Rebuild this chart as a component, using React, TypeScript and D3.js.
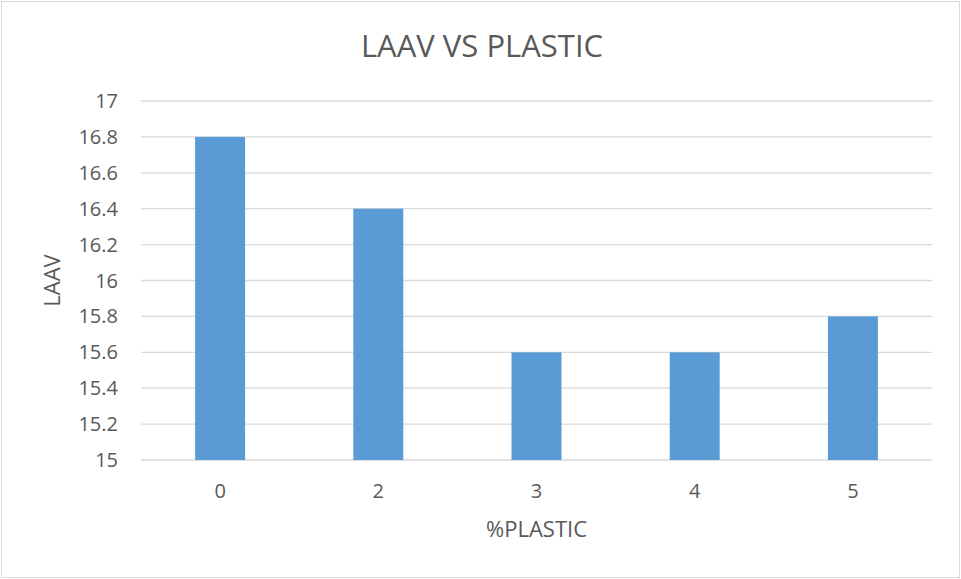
import React from "react";
import * as d3 from "d3";

const categories = ["0", "2", "3", "4", "5"];
const laavValues = [16.8, 16.4, 15.6, 15.6, 15.8];
const yTicks = [15, 15.2, 15.4, 15.6, 15.8, 16, 16.2, 16.4, 16.6, 16.8, 17];

const W = 961;
const H = 579;
const plot = { left: 141, right: 932, top: 101, bottom: 460 };
const FONT = "'Open Sans', Lato, sans-serif";
const TEXT = "#595959";

export default function App() {
  const x = d3.scaleBand<string>().domain(categories).range([plot.left, plot.right]).padding(0);
  const y = d3.scaleLinear().domain([15, 17]).range([plot.bottom, plot.top]);
  const barW = x.bandwidth() * 0.316;

  return (
    <div style={{ position: "fixed", left: 0, top: 0 }}>
      <svg width={W} height={H} style={{ display: "block", background: "#fff" }}>
        <rect x={1.5} y={1.5} width={W - 3} height={H - 3} fill="#fff" stroke="#d9d9d9" strokeWidth={1} />
        <text x={482} y={57} textAnchor="middle" fontFamily={FONT} fontSize={31} fill={TEXT}>
          LAAV VS PLASTIC
        </text>
        {yTicks.map((t) => (
          <g key={t}>
            <line x1={plot.left} x2={plot.right} y1={y(t)} y2={y(t)} stroke="#d9d9d9" strokeWidth={1.3} />
            <text x={118} y={y(t) + 7} textAnchor="end" fontFamily={FONT} fontSize={20} fill={TEXT}>
              {d3.format("")(t)}
            </text>
          </g>
        ))}
        {categories.map((c, i) => (
          <rect
            key={c}
            x={(x(c) as number) + x.bandwidth() / 2 - barW / 2}
            y={y(laavValues[i])}
            width={barW}
            height={y(15) - y(laavValues[i])}
            fill="#5b9bd5"
          />
        ))}
        {categories.map((c) => (
          <text key={c} x={(x(c) as number) + x.bandwidth() / 2} y={498} textAnchor="middle" fontFamily={FONT} fontSize={20} fill={TEXT}>
            {c}
          </text>
        ))}
        <text x={(plot.left + plot.right) / 2} y={537} textAnchor="middle" fontFamily={FONT} fontSize={22} fill={TEXT}>
          %PLASTIC
        </text>
        <text
          transform={`translate(60, ${(plot.top + plot.bottom) / 2}) rotate(-90)`}
          textAnchor="middle"
          fontFamily={FONT}
          fontSize={22}
          fill={TEXT}
        >
          LAAV
        </text>
      </svg>
    </div>
  );
}
